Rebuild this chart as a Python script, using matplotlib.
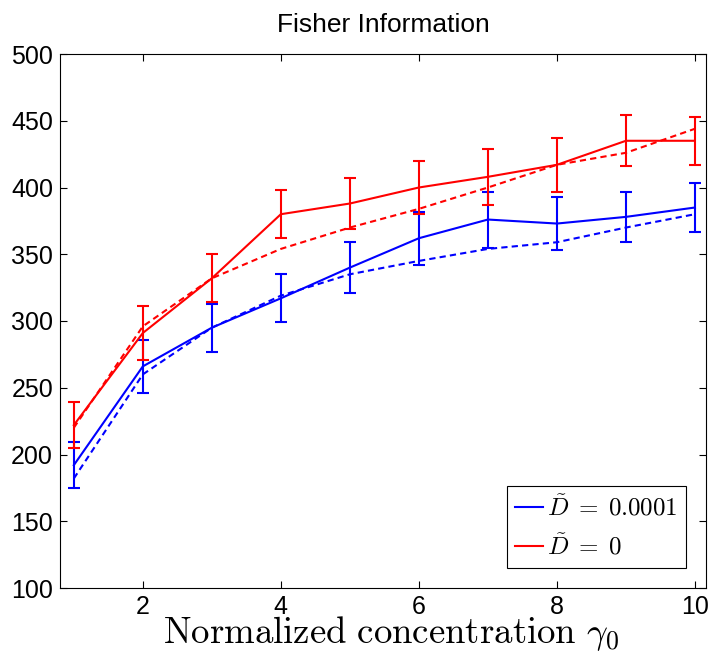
import matplotlib
matplotlib.use("Agg")
import matplotlib.pyplot as plt
import numpy as np

plt.rcParams['font.family'] = ['Liberation Sans', 'DejaVu Sans']
plt.rcParams['mathtext.fontset'] = 'cm'

# normalized concentration
gamma0 = [1, 2, 3, 4, 5, 6, 7, 8, 9, 10]

# D = 0.0001 : simulated (solid, with error bars) and analytic (dashed)
fi_blue = [192, 266, 295, 317, 340, 362, 376, 373, 378, 385]
fi_blue_theory = [182, 260, 295, 319, 335, 345, 354, 359, 370, 380]

# D = 0
fi_red = [222, 291, 332, 380, 388, 400, 408, 417, 435, 435]
fi_red_theory = [220, 296, 332, 354, 370, 384, 400, 417, 426, 444]

# error bar half-widths (same for both series)
err = [17, 20, 18, 18, 19, 20, 21, 20, 19, 18]

fig = plt.figure(figsize=(7.08, 6.54), dpi=100)
ax = fig.add_axes([60 / 708, 1 - 588 / 654, 646 / 708, 534 / 654])

lw = 1.5
ax.errorbar(gamma0, fi_blue, yerr=err, color='blue', lw=lw, capsize=4.5,
            elinewidth=lw, capthick=lw, label=r'$\tilde{D}\;=\;0.0001$')
ax.errorbar(gamma0, fi_red, yerr=err, color='red', lw=lw, capsize=4.5,
            elinewidth=lw, capthick=lw, label=r'$\tilde{D}\;=\;0$')
ax.plot(gamma0, fi_blue_theory, color='blue', lw=lw, dashes=(3, 2))
ax.plot(gamma0, fi_red_theory, color='red', lw=lw, dashes=(3, 2))

ax.set_xlim(0.8, 10.16)
ax.set_ylim(100, 500)
ax.set_xticks([2, 4, 6, 8, 10])
ax.set_yticks(np.arange(100, 501, 50))
ax.tick_params(direction='in', top=True, right=True, labelsize=18,
               length=5, width=0.8, pad=5)
for s in ax.spines.values():
    s.set_linewidth(0.8)

ax.set_title('Fisher Information', fontsize=19, pad=16)
fig.text(391 / 708, 1 - 643 / 654,
         r'$\mathrm{Normalized\ concentration}\ \gamma_0$',
         fontsize=26.5, ha='center', va='baseline')

# legend shows plain line handles, no error bar glyphs
handles, labels = ax.get_legend_handles_labels()
handles = [h[0] for h in handles]
leg = ax.legend(handles, labels, loc='lower right', fontsize=18,
                handlelength=1.1, handletextpad=0.15, borderpad=0.35,
                labelspacing=0.5, borderaxespad=0.8, fancybox=False,
                framealpha=1, edgecolor='black')
leg.get_frame().set_linewidth(0.8)

fig.savefig('out.png', dpi=100)
